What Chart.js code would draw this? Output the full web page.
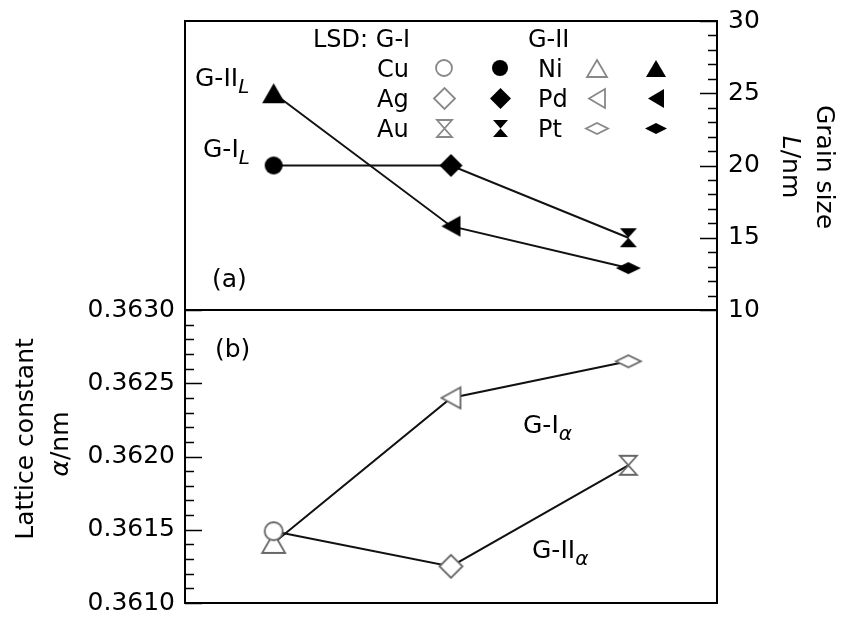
<!DOCTYPE html>
<html>
<head>
<meta charset="utf-8">
<script src="https://cdn.jsdelivr.net/npm/chart.js@4.4.1/dist/chart.umd.min.js"></script>
<style>
  body { margin: 0; background: #fff; }
  #wrap { position: relative; width: 843px; height: 618px; overflow: hidden; }
  canvas { position: absolute; left: 0; }
  #top { top: 0; }
  #bottom { top: 290px; }
</style>
</head>
<body>
<div id="wrap">
  <canvas id="bottom" width="843" height="328"></canvas>
  <canvas id="top" width="843" height="340"></canvas>
</div>
<script>
// data
const categories = ['Cu / Ni', 'Ag / Pd', 'Au / Pt']
const grainGI = [20, 20, 15]          // Cu, Ag, Au (filled)
const grainGII = [25, 15.8, 12.9]     // Ni, Pd, Pt (filled)
const latticeGI = [0.36149, 0.36125, 0.36194]   // Cu, Ag, Au (open)
const latticeGII = [0.36141, 0.36240, 0.36265]  // Ni, Pd, Pt (open)
const grainTicks = [10, 15, 20, 25, 30]
const latticeTicks = [0.3610, 0.3615, 0.3620, 0.3625, 0.3630]

const FAM = '"DejaVu Sans", sans-serif'
const ink = '#000'
const lineColor = '#111'
const openColor = '#666'

// marker glyphs as small canvases
function makeMarker(kind, filled, w, h, stroke) {
  const c = document.createElement('canvas')
  c.width = Math.ceil(w + 4)
  c.height = Math.ceil(h + 4)
  const g = c.getContext('2d')
  const x0 = (c.width - w) / 2, y0 = (c.height - h) / 2
  const cx = c.width / 2, cy = c.height / 2
  g.beginPath()
  if (kind === 'circle') {
    g.arc(cx, cy, w / 2, 0, Math.PI * 2)
  } else if (kind === 'diamond' || kind === 'flat') {
    g.moveTo(x0, cy); g.lineTo(cx, y0); g.lineTo(x0 + w, cy); g.lineTo(cx, y0 + h)
  } else if (kind === 'triUp') {
    g.moveTo(cx, y0); g.lineTo(x0 + w, y0 + h); g.lineTo(x0, y0 + h)
  } else if (kind === 'triLeft') {
    g.moveTo(x0, cy); g.lineTo(x0 + w, y0); g.lineTo(x0 + w, y0 + h)
  } else if (kind === 'hour') {
    g.moveTo(x0, y0); g.lineTo(x0 + w, y0); g.lineTo(cx, cy)
    g.lineTo(x0 + w, y0 + h); g.lineTo(x0, y0 + h); g.lineTo(cx, cy)
  }
  g.closePath()
  if (filled) {
    g.fillStyle = '#000'
    g.fill()
  } else {
    g.fillStyle = '#fff'
    g.fill()
    g.strokeStyle = stroke || openColor
    g.lineWidth = 1.8
    g.stroke()
  }
  return c
}

const sizes = {
  circle: [18, 18], diamond: [23, 23], triUp: [23, 20], triLeft: [19, 21], hour: [17, 19], flat: [25, 12]
}
const legendSizes = {
  circle: [16, 16], diamond: [21, 21], triUp: [20, 17], triLeft: [16, 19], hour: [15, 17], flat: [22, 11]
}
const mk = (kind, filled) => makeMarker(kind, filled, sizes[kind][0], sizes[kind][1])
const lmk = (kind, filled) => makeMarker(kind, filled, legendSizes[kind][0], legendSizes[kind][1], '#888')

function richText(ctx, parts, x, y, align) {
  let total = 0
  parts.forEach(p => { ctx.font = p.font; p.w = ctx.measureText(p.t).width; total += p.w })
  let cx = align === 'center' ? x - total / 2 : x
  ctx.textAlign = 'left'
  ctx.textBaseline = 'alphabetic'
  parts.forEach(p => { ctx.font = p.font; ctx.fillText(p.t, cx, y + (p.dy || 0)); cx += p.w })
}

const f25 = '25px ' + FAM
const f24 = '24px ' + FAM
const sub = 'italic 20px ' + FAM

// frame + inward ticks
function framePlugin(axisId, side, step, majorEvery, min, max) {
  return {
    id: 'frame' + side,
    afterDraw(chart) {
      const { ctx, chartArea: a } = chart
      const s = chart.scales[axisId]
      ctx.save()
      ctx.strokeStyle = '#000'
      ctx.lineWidth = 2
      ctx.strokeRect(a.left, a.top, a.right - a.left, a.bottom - a.top)
      ctx.lineWidth = 1.6
      const n = Math.round((max - min) / step)
      ctx.beginPath()
      for (let i = 0; i <= n; i++) {
        const y = Math.round(s.getPixelForValue(min + i * step)) + 0.5
        const len = i % majorEvery === 0 ? 17 : 9
        if (side === 'right') { ctx.moveTo(a.right, y); ctx.lineTo(a.right - len, y) }
        else { ctx.moveTo(a.left, y); ctx.lineTo(a.left + len, y) }
      }
      ctx.stroke()
      ctx.restore()
    }
  }
}

const topText = {
  id: 'topText',
  afterDraw(chart) {
    const ctx = chart.ctx
    ctx.save()
    ctx.fillStyle = ink
    richText(ctx, [{ t: 'G-II', font: f25 }, { t: 'L', font: sub, dy: 7 }], 195, 86)
    richText(ctx, [{ t: 'G-I', font: f25 }, { t: 'L', font: sub, dy: 7 }], 203, 157)
    richText(ctx, [{ t: '(a)', font: f25 }], 212, 287)

    // legend block
    richText(ctx, [{ t: 'LSD: G-I', font: f24 }], 313, 47)
    richText(ctx, [{ t: 'G-II', font: f24 }], 528, 47)
    const rows = [
      ['Cu', 'circle', 'Ni', 'triUp'],
      ['Ag', 'diamond', 'Pd', 'triLeft'],
      ['Au', 'hour', 'Pt', 'flat']
    ]
    rows.forEach((r, i) => {
      const yc = 68 + i * 30
      richText(ctx, [{ t: r[0], font: f24 }], 377, yc + 9)
      richText(ctx, [{ t: r[2], font: f24 }], 538, yc + 9)
      const marks = [[lmk(r[1], false), 444], [lmk(r[1], true), 500], [lmk(r[3], false), 597], [lmk(r[3], true), 656]]
      marks.forEach(([c, x]) => ctx.drawImage(c, Math.round(x - c.width / 2), Math.round(yc - c.height / 2)))
    })

    // right axis title
    ctx.translate(817, 167)
    ctx.rotate(Math.PI / 2)
    richText(ctx, [{ t: 'Grain size', font: f25 }], 0, 0, 'center')
    ctx.rotate(-Math.PI / 2)
    ctx.translate(-34, 0)
    ctx.rotate(Math.PI / 2)
    richText(ctx, [{ t: 'L', font: 'italic 25px ' + FAM }, { t: '/nm', font: f25 }], 0, 0, 'center')
    ctx.restore()
  }
}

const OFF = 290
const bottomText = {
  id: 'bottomText',
  afterDraw(chart) {
    const ctx = chart.ctx
    ctx.save()
    ctx.fillStyle = ink
    richText(ctx, [{ t: '(b)', font: f25 }], 215, 357 - OFF)
    richText(ctx, [{ t: 'G-I', font: f25 }, { t: 'α', font: sub, dy: 7 }], 523, 433 - OFF)
    richText(ctx, [{ t: 'G-II', font: f25 }, { t: 'α', font: sub, dy: 7 }], 532, 558 - OFF)

    ctx.translate(33, 439 - OFF)
    ctx.rotate(-Math.PI / 2)
    richText(ctx, [{ t: 'Lattice constant', font: f25 }], 0, 0, 'center')
    ctx.rotate(Math.PI / 2)
    ctx.translate(35, 5)
    ctx.rotate(-Math.PI / 2)
    richText(ctx, [{ t: 'α', font: 'italic 25px ' + FAM }, { t: '/nm', font: f25 }], 0, 0, 'center')
    ctx.restore()
  }
}

const common = {
  responsive: false,
  animation: false,
  events: [],
  plugins: { legend: { display: false }, tooltip: { enabled: false } }
}

new Chart(document.getElementById('top'), {
  type: 'line',
  data: {
    labels: categories,
    datasets: [
      {
        label: 'G-I L',
        data: grainGI,
        borderColor: lineColor,
        borderWidth: 2,
        pointStyle: [mk('circle', true), mk('diamond', true), mk('hour', true)],
        pointRadius: 10
      },
      {
        label: 'G-II L',
        data: grainGII,
        borderColor: lineColor,
        borderWidth: 2,
        pointStyle: [mk('triUp', true), mk('triLeft', true), mk('flat', true)],
        pointRadius: 10
      }
    ]
  },
  options: {
    ...common,
    layout: { autoPadding: false, padding: { left: 185, right: 0, top: 21, bottom: 30 } },
    scales: {
      x: { display: false, offset: true },
      y: {
        position: 'right',
        min: 10,
        max: 30,
        grid: { display: false, drawTicks: false },
        border: { display: false },
        ticks: { padding: 11, color: ink, font: { family: FAM, size: 25, lineHeight: 0.4 } },
        afterBuildTicks: s => { s.ticks = grainTicks.map(v => ({ value: v })) },
        afterFit: s => { s.width = 126 }
      }
    }
  },
  plugins: [framePlugin('y', 'right', 1, 5, 10, 30), topText]
})

new Chart(document.getElementById('bottom'), {
  type: 'line',
  data: {
    labels: categories,
    datasets: [
      {
        label: 'G-I a',
        data: latticeGI,
        borderColor: lineColor,
        borderWidth: 2,
        pointStyle: [mk('circle', false), mk('diamond', false), mk('hour', false)],
        pointRadius: 10
      },
      {
        label: 'G-II a',
        data: latticeGII,
        borderColor: lineColor,
        borderWidth: 2,
        pointStyle: [mk('triUp', false), mk('triLeft', false), mk('flat', false)],
        pointRadius: 10
      }
    ]
  },
  options: {
    ...common,
    layout: { autoPadding: false, padding: { left: 0, right: 126, top: 20, bottom: 15 } },
    scales: {
      x: { display: false, offset: true },
      y: {
        position: 'left',
        min: 0.361,
        max: 0.363,
        grid: { display: false, drawTicks: false },
        border: { display: false },
        ticks: { padding: 10, color: ink, font: { family: FAM, size: 25, lineHeight: 0.4 }, callback: v => Number(v).toFixed(4) },
        afterBuildTicks: s => { s.ticks = latticeTicks.map(v => ({ value: v })) },
        afterFit: s => { s.width = 185 }
      }
    }
  },
  plugins: [framePlugin('y', 'left', 0.0001, 5, 0.361, 0.363), bottomText]
})
</script>
</body>
</html>
